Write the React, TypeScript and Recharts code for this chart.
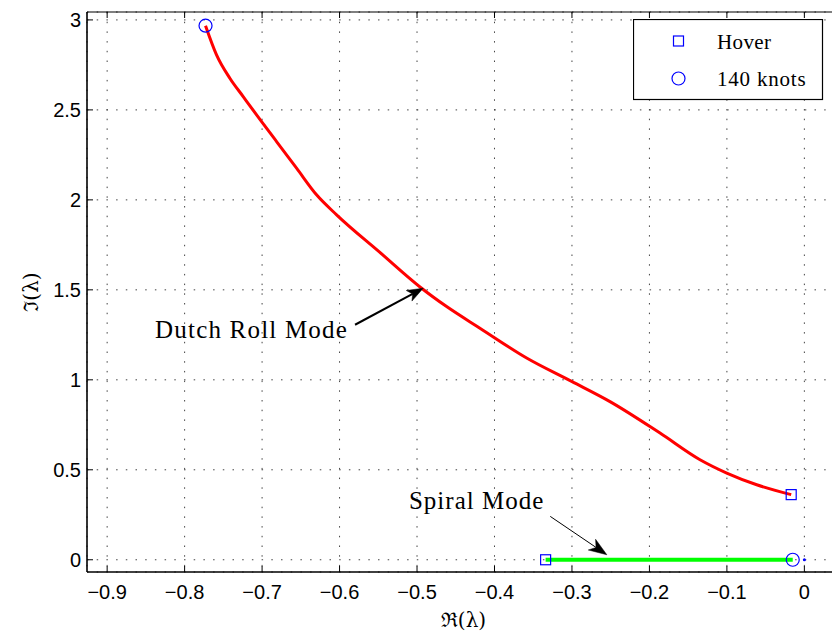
import React from 'react';
import {
  ComposedChart,
  Line,
  Scatter,
  XAxis,
  YAxis,
  CartesianGrid,
  ReferenceLine,
  Legend,
} from 'recharts';

// ---------- data ----------
const xTicks = [-0.9, -0.8, -0.7, -0.6, -0.5, -0.4, -0.3, -0.2, -0.1, 0];
const yTicks = [0, 0.5, 1, 1.5, 2, 2.5, 3];
const xDomain = [-0.926, 0.046];
const yDomain = [-0.068, 3.044];

const dutchRollRe = [
  -0.773, -0.7588, -0.7416, -0.7244, -0.7071, -0.6813, -0.6555, -0.6297,
  -0.6038, -0.5479, -0.4941, -0.4618, -0.4188, -0.3585, -0.3004,
  -0.2509, -0.1863, -0.1347, -0.1002, -0.0615, -0.017,
];
const dutchRollIm = [
  2.968, 2.806, 2.676, 2.574, 2.472, 2.324, 2.176, 2.028,
  1.917, 1.708, 1.509, 1.407, 1.287, 1.121, 0.991,
  0.879, 0.704, 0.556, 0.482, 0.417, 0.362,
];

const spiralRe = [-0.334, -0.015];
const spiralIm = [0, 0];

const hoverRe = [-0.017, -0.334];
const hoverIm = [0.362, 0];

const knotsRe = [-0.773, -0.015];
const knotsIm = [2.968, 0];

const originRe = [0];
const originIm = [0];

const legendLabels = ['Hover', '140 knots'];

const dutchArrow = { text: 'Dutch Roll Mode', from: { x: -0.58, y: 1.306 }, to: { x: -0.492, y: 1.509 } };
const spiralArrow = { text: 'Spiral Mode', from: { x: -0.328, y: 0.241 }, to: { x: -0.255, y: 0.028 } };

const zip = (xs: number[], ys: number[]) => xs.map((x, i) => ({ x, y: ys[i] }));
const dutchRollData = zip(dutchRollRe, dutchRollIm);
const spiralData = zip(spiralRe, spiralIm);
const hoverData = zip(hoverRe, hoverIm);
const knotsData = zip(knotsRe, knotsIm);
const originData = zip(originRe, originIm);

// ---------- styles ----------
const PLOT_TOP = 4;
const SANS = '"Liberation Sans", Arial, Helvetica, sans-serif';
const SERIF = '"Liberation Serif", "Times New Roman", serif';
const BLUE = '#0000ff';

const fmtX = (v: number) => (v === 0 ? '0' : (v < 0 ? '\u2212' : '') + Math.abs(v).toFixed(1));
const fmtY = (v: number) => (Number.isInteger(v) ? String(v) : v.toFixed(1));

const XTick = (props: any) => {
  const { x, y, payload } = props;
  return (
    <g>
      <line x1={x} x2={x} y1={y} y2={y - 6} stroke="#000" strokeWidth={1} />
      <line x1={x} x2={x} y1={PLOT_TOP} y2={PLOT_TOP + 6} stroke="#000" strokeWidth={1} />
      <text x={x} y={y + 27} textAnchor="middle" fontFamily={SANS} fontSize={20} fill="#000">
        {fmtX(payload.value)}
      </text>
    </g>
  );
};

const YTick = (props: any) => {
  const { x, y, payload } = props;
  return (
    <g>
      <line x1={x} x2={x + 6} y1={y} y2={y} stroke="#000" strokeWidth={1} />
      <text x={x - 6} y={y + 7} textAnchor="end" fontFamily={SANS} fontSize={20} fill="#000">
        {fmtY(payload.value)}
      </text>
    </g>
  );
};

const XLabel = (props: any) => {
  const vb = props.viewBox || {};
  const cx = vb.x + vb.width / 2;
  return (
    <text x={cx} y={vb.y + 55} textAnchor="middle" fontFamily='"DejaVu Serif", serif' fontSize={20} fill="#000">
      ℜ(λ)
    </text>
  );
};

const YLabel = (props: any) => {
  const vb = props.viewBox || {};
  const cy = vb.y + vb.height / 2;
  const x = 30;
  return (
    <text
      x={x}
      y={cy}
      transform={`rotate(-90, ${x}, ${cy})`}
      textAnchor="middle"
      fontFamily='"DejaVu Serif", serif'
      fontSize={20}
      fill="#000"
    >
      ℑ(λ)
    </text>
  );
};

const makeArrow =
  (text: string, strokeWidth: number, L: number, W: number, back: number, tdx: number, tdy: number, ls: number) =>
  (props: any) => {
    const { x1, y1, x2, y2 } = props;
    const ang = Math.atan2(y2 - y1, x2 - x1);
    const c = Math.cos(ang);
    const s = Math.sin(ang);
    const p = (d: number, n: number) => `${x2 - d * c - n * s},${y2 - d * s + n * c}`;
    const nx = x2 - back * c;
    const ny = y2 - back * s;
    return (
      <g>
        <line x1={x1} y1={y1} x2={nx} y2={ny} stroke="#000" strokeWidth={strokeWidth} />
        <polygon points={`${p(0, 0)} ${p(L, W)} ${p(back, 0)} ${p(L, -W)}`} fill="#000" stroke="#000" strokeWidth={0.5} />
        <text
          x={x1 + tdx}
          y={y1 + tdy}
          textAnchor="end"
          fontFamily={SERIF}
          fontSize={25}
          letterSpacing={ls}
          fill="#000"
        >
          {text}
        </text>
      </g>
    );
  };

const SquareMarker = (props: any) => {
  const { cx, cy } = props;
  return <rect x={cx - 5} y={cy - 5} width={10} height={10} fill="none" stroke={BLUE} strokeWidth={1.2} />;
};
const CircleMarker = (props: any) => {
  const { cx, cy } = props;
  return <circle cx={cx} cy={cy} r={6.5} fill="none" stroke={BLUE} strokeWidth={1.2} />;
};
const DotMarker = (props: any) => {
  const { cx, cy } = props;
  return <circle cx={cx} cy={cy} r={1.5} fill={BLUE} />;
};

const LegendBox = () => (
  <svg width={191} height={82} style={{ display: 'block' }}>
    <rect x={0.5} y={0.5} width={189} height={80} fill="#fff" stroke="#000" strokeWidth={1.2} />
    <rect x={40.5} y={17} width={10} height={10} fill="none" stroke={BLUE} strokeWidth={1.2} />
    <text x={84} y={29.5} fontFamily={SERIF} fontSize={21} letterSpacing={0.4} fill="#000">
      {legendLabels[0]}
    </text>
    <circle cx={45.5} cy={59.5} r={6.5} fill="none" stroke={BLUE} strokeWidth={1.2} />
    <text x={84} y={67} fontFamily={SERIF} fontSize={21} letterSpacing={0.8} fill="#000">
      {legendLabels[1]}
    </text>
  </svg>
);

export default function App() {
  return (
    <div style={{ width: 832, height: 625 }}>
      <ComposedChart width={832} height={625} margin={{ top: PLOT_TOP, right: 0, bottom: 0, left: 0 }}>
        <CartesianGrid stroke="#444" strokeDasharray="1.5 8.2" strokeWidth={1} />
        <XAxis
          type="number"
          dataKey="x"
          domain={xDomain}
          ticks={xTicks}
          allowDataOverflow
          interval={0}
          height={61}
          tickSize={0}
          tickMargin={0}
          tickLine={false}
          axisLine={{ stroke: '#000', strokeWidth: 1.6 }}
          tick={<XTick />}
          label={<XLabel />}
        />
        <YAxis
          type="number"
          dataKey="y"
          domain={yDomain}
          ticks={yTicks}
          allowDataOverflow
          interval={0}
          width={79}
          tickSize={0}
          tickMargin={0}
          tickLine={false}
          axisLine={{ stroke: '#000', strokeWidth: 1.6 }}
          tick={<YTick />}
          label={<YLabel />}
        />
        <ReferenceLine y={yDomain[1]} stroke="#000" strokeWidth={1.2} ifOverflow="visible" />
        <Line
          data={dutchRollData}
          dataKey="y"
          type="monotone"
          stroke="#ff0000"
          strokeWidth={3}
          dot={false}
          isAnimationActive={false}
          legendType="none"
        />
        <Line
          data={spiralData}
          dataKey="y"
          type="linear"
          stroke="#00ff00"
          strokeWidth={4}
          dot={false}
          isAnimationActive={false}
          legendType="none"
        />
        <Scatter data={hoverData} dataKey="y" shape={<SquareMarker />} isAnimationActive={false} name={legendLabels[0]} />
        <Scatter data={knotsData} dataKey="y" shape={<CircleMarker />} isAnimationActive={false} name={legendLabels[1]} />
        <Scatter data={originData} dataKey="y" shape={<DotMarker />} isAnimationActive={false} legendType="none" />
        <ReferenceLine
          segment={[dutchArrow.from, dutchArrow.to]}
          ifOverflow="visible"
          shape={makeArrow(dutchArrow.text, 2, 16, 6, 12, -7, 13.5, 1.2)}
        />
        <ReferenceLine
          segment={[spiralArrow.from, spiralArrow.to]}
          ifOverflow="visible"
          shape={makeArrow(spiralArrow.text, 1, 18, 6.5, 13, -6, -7.7, 1)}
        />
        <Legend
          layout="horizontal"
          verticalAlign="middle"
          align="center"
          content={<LegendBox />}
          wrapperStyle={{ position: 'absolute', left: 625, top: 11, width: 191, height: 82 }}
        />
      </ComposedChart>
    </div>
  );
}
